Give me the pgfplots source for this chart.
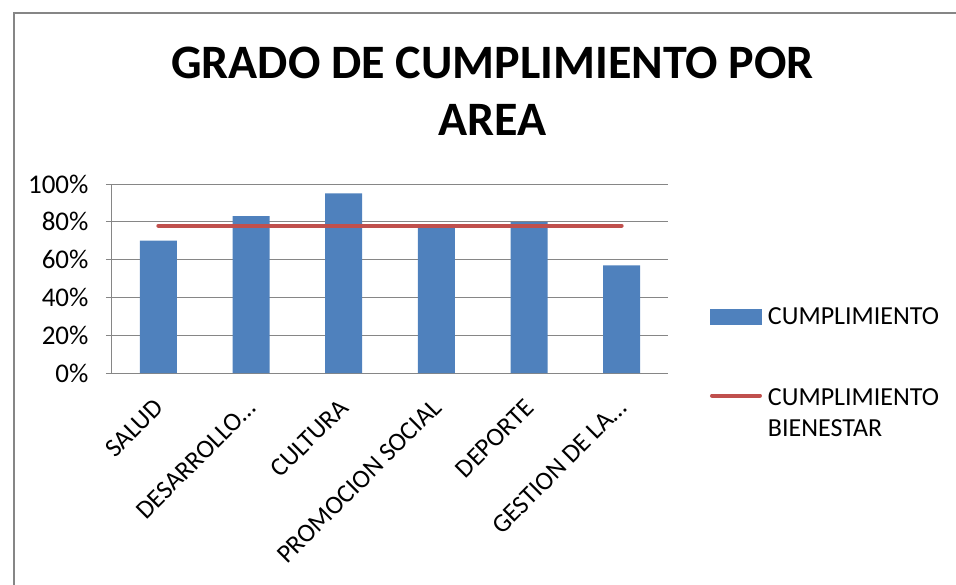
\documentclass[border=0pt]{standalone}
\usepackage{pgfplots}
\pgfplotsset{compat=1.18}
\usepackage{fontspec}
\setmainfont{Carlito}
\definecolor{barblue}{HTML}{4F81BD}
\definecolor{linered}{HTML}{C0504D}
\definecolor{gridgray}{HTML}{868686}
\begin{document}
\begin{tikzpicture}[x=1pt,y=1pt]
\useasboundingbox (0,0) rectangle (956,-584);
\draw[gridgray, line width=1.5pt] (14,-590) -- (14,-13) -- (960,-13);
\begin{axis}[
  at={(112pt,-373pt)}, anchor=south west,
  scale only axis, width=556pt, height=189pt,
  xmin=-0.5, xmax=5.5, ymin=0, ymax=100,
  axis x line*=bottom, axis y line*=left,
  axis line style={gridgray, line width=1pt, -},
  xtick={0,1,2,3,4,5},
  xticklabels={SALUD, DESARROLLO…, CULTURA, PROMOCION SOCIAL, DEPORTE, GESTION DE LA…},
  x tick style={draw=none},
  extra x ticks={-0.5,0.5,1.5,2.5,3.5,4.5,5.5},
  extra x tick labels={},
  extra x tick style={major tick length=10pt, tick align=outside, tick style={draw=gridgray, line width=1pt}, grid=none},
  ytick={0,20,40,60,80,100},
  yticklabel={\pgfmathprintnumber{\tick}\%},
  y tick style={draw=gridgray, line width=1pt},
  tick align=outside, major tick length=6pt,
  ymajorgrids, grid style={gridgray, line width=1pt},
  /pgf/number format/assume math mode=true,
  tick label style={font=\fontsize{26}{31}\selectfont, text=black},
  yticklabel style={xshift=-14pt, font=\fontsize{27}{31}\selectfont},
  xticklabel style={xshift=3pt, yshift=-22pt, rotate=45, anchor=east},
  title={GRADO DE CUMPLIMIENTO POR\\AREA},
  title style={at={(0.6845,1.693)}, anchor=north, align=center, inner sep=0pt,
    font=\bfseries\fontsize{48}{57}\selectfont},
  legend style={at={(1.0755,0.346)}, anchor=north west, draw=none, fill=none,
    inner sep=0pt, outer sep=0pt,
    font=\fontsize{26}{31}\selectfont, nodes={inner sep=0pt, outer sep=0pt},
    cells={anchor=base west},
    row sep=58pt, column sep=6pt},
  legend cell align=left,
  clip=false,
]
\addplot[ybar, bar width=37pt, fill=barblue, draw=none,
  legend image code/.code={\fill[barblue] (0pt,-8pt) rectangle (52pt,8pt);}]
  coordinates {(0,70) (1,83) (2,95) (3,78) (4,80) (5,57)};
\addlegendentry{CUMPLIMIENTO}
\addplot[linered, line width=4pt, line cap=round, mark=none,
  legend image code/.code={\draw[linered, line width=4pt, line cap=round] (2pt,0pt) -- (50pt,0pt);}]
  coordinates {(0,78) (1,78) (2,78) (3,78) (4,78) (5,78)};
\addlegendentry{\begin{tabular}[t]{@{}l@{}}CUMPLIMIENTO\\BIENESTAR\end{tabular}}
\end{axis}
\end{tikzpicture}
\end{document}
